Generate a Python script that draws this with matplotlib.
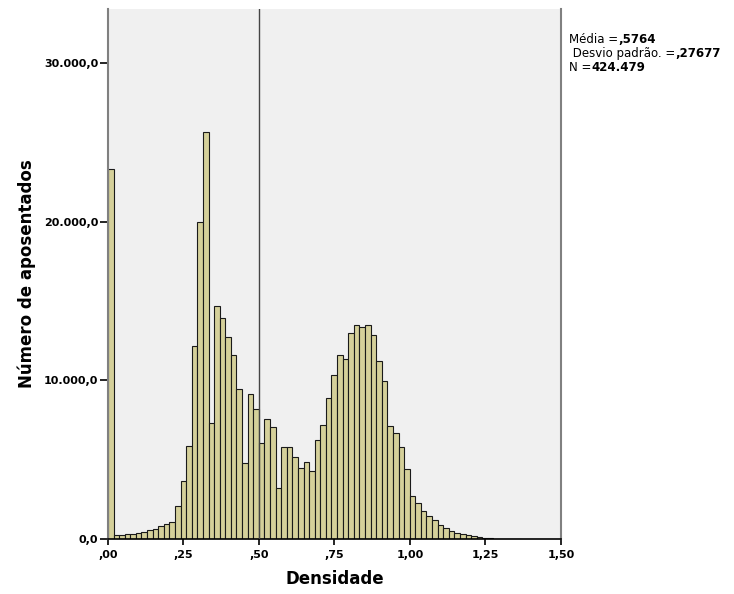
import matplotlib.pyplot as plt
import numpy as np

plt.rcParams['font.family'] = 'DejaVu Sans'

# histogram of Densidade, bins of 0.0185 starting at 0
bin_width = 0.0185
counts = [23335, 277, 233, 296, 340, 403, 441, 548, 655, 819,
          970, 1052, 2092, 3686, 5890, 12140, 19971, 25654, 7333, 14679,
          13948, 12726, 11573, 9475, 4813, 9160, 8215, 6029, 7541, 7056,
          3238, 5821, 5821, 5191, 4454, 4851, 4265, 6218, 7163, 8864,
          10313, 11573, 11365, 12959, 13507, 13356, 13463, 12877, 11195, 9935,
          7100, 6678, 5796, 4435, 2734, 2293, 1745, 1430, 1178, 863,
          693, 504, 403, 296, 233, 189, 126, 88, 63, 30,
          30, 30, 30, 30]
ref_line = 0.5
x_ticks = [0, 0.25, 0.5, 0.75, 1.0, 1.25, 1.5]
x_labels = [',00', ',25', ',50', ',75', '1,00', '1,25', '1,50']
y_ticks = [0, 10000, 20000, 30000]
y_labels = ['0,0', '10.000,0', '20.000,0', '30.000,0']
stats = [('Média =', ',5764'), (' Desvio padrão. =', ',27677'), ('N =', '424.479')]

fig = plt.figure(figsize=(7.34, 5.94), dpi=100)
ax = fig.add_axes([0.1471, 0.0926, 0.6172, 0.8922])
ax.set_facecolor('#F0F0F0')

left = np.arange(len(counts)) * bin_width
ax.bar(left, counts, width=bin_width, align='edge', color='#D5D09A',
       edgecolor='#1a1a1a', linewidth=0.8, zorder=2)
ax.axvline(ref_line, color='#444444', linewidth=1.0, zorder=3)

ax.set_xlim(0, 1.5)
ax.set_ylim(0, 33400)
ax.set_xticks(x_ticks)
ax.set_xticklabels(x_labels)
ax.set_yticks(y_ticks)
ax.set_yticklabels(y_labels)
ax.tick_params(axis='y', direction='out', length=6, width=1.2, pad=1, labelsize=8)
ax.tick_params(axis='x', direction='out', length=4, width=1.2, pad=4, labelsize=8)
for lab in ax.get_xticklabels() + ax.get_yticklabels():
    lab.set_fontweight('bold')

ax.spines['top'].set_visible(False)
ax.spines['left'].set_color('#808080')
ax.spines['left'].set_linewidth(1.5)
ax.spines['right'].set_color('#808080')
ax.spines['right'].set_linewidth(1.5)
ax.spines['bottom'].set_color('black')
ax.spines['bottom'].set_linewidth(1.2)

ax.set_xlabel('Densidade', fontsize=12, fontweight='bold', labelpad=7)
ax.set_ylabel('Número de aposentados', fontsize=12, fontweight='bold', labelpad=6)

# stats box text: normal label followed by bold value
y0 = 0.927
for k, (normal, bold) in enumerate(stats):
    t = fig.text(0.775, y0 - k * 0.0235, normal, fontsize=8.5, va='baseline')
    ax.annotate(bold, xy=(1, 0), xycoords=t, fontsize=8.5, fontweight='bold',
                va='bottom', ha='left', annotation_clip=False)

fig.savefig('out.png', dpi=100)
